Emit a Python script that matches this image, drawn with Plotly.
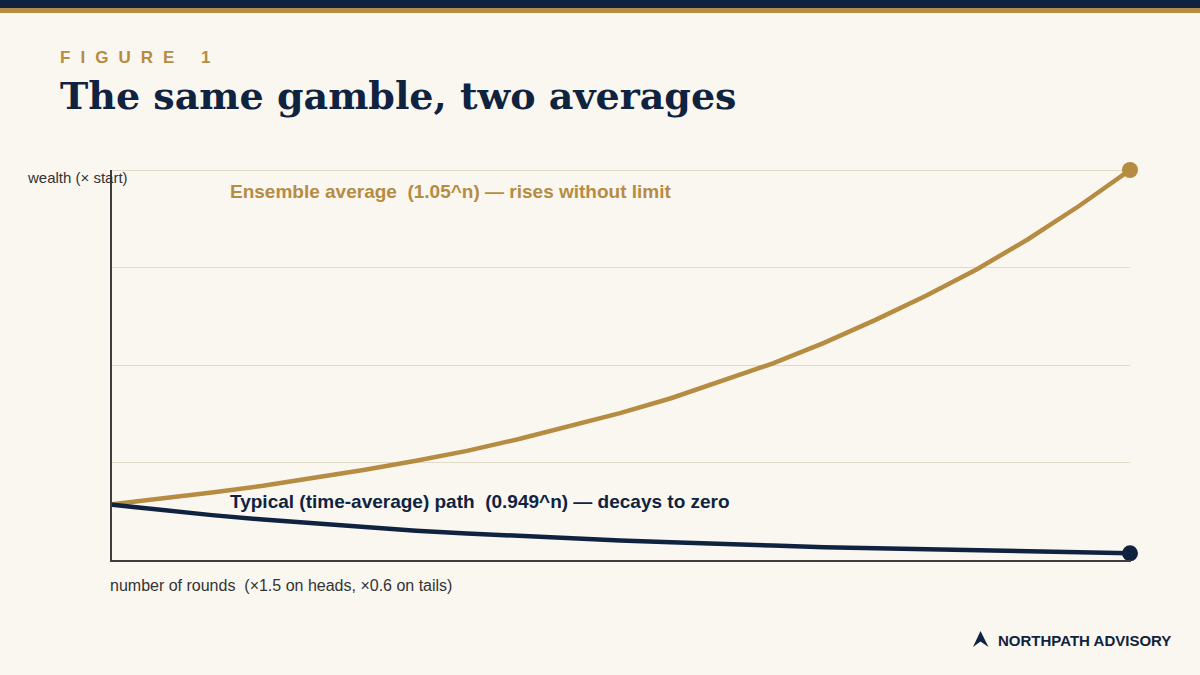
import plotly.graph_objects as go

# Sampled rounds and the two wealth paths (multiples of the starting stake)
rounds = [0, 2, 4, 6, 8, 10, 12, 14, 16, 18, 20, 22, 24, 26, 28, 30, 32, 34, 36, 38, 40]
ensemble = [1.00, 1.10, 1.22, 1.34, 1.48, 1.63, 1.79, 1.97, 2.18, 2.41, 2.65,
            2.92, 3.23, 3.55, 3.92, 4.33, 4.77, 5.25, 5.79, 6.39, 7.04]
typical = [1.00, 0.90, 0.81, 0.73, 0.66, 0.59, 0.53, 0.48, 0.43, 0.39, 0.35,
           0.32, 0.28, 0.26, 0.23, 0.21, 0.19, 0.17, 0.15, 0.14, 0.12]
grid_levels = [1.76, 3.52, 5.28]
top_level = 7.04

NAVY = "#0f2340"
GOLD = "#b58c42"
PAPER = "#faf7f0"
GRID = "#e0dac8"
AXIS = "#3d3d3d"
INK = "#333333"
SANS = "Liberation Sans"
SERIF = "DejaVu Serif"

W, H = 1200, 675
LEFT, RIGHT, TOP, BOTTOM = 110, 1130, 170, 560

fx = lambda px: (px - LEFT) / (RIGHT - LEFT)
fy = lambda py: (BOTTOM - py) / (BOTTOM - TOP)

fig = go.Figure()


def add_path(values, color):
    fig.add_trace(go.Scatter(
        x=rounds, y=values, mode="lines",
        line=dict(color=color, width=4.5), hoverinfo="skip", cliponaxis=False,
    ))
    fig.add_trace(go.Scatter(
        x=rounds[-1:], y=values[-1:], mode="markers",
        marker=dict(color=color, size=16, line=dict(width=0)),
        hoverinfo="skip", cliponaxis=False,
    ))


add_path(ensemble, GOLD)
add_path(typical, NAVY)


def paper_text(x, y, text, size, color, family=SANS, bold=False):
    fig.add_annotation(
        xref="paper", yref="paper", x=fx(x), y=fy(y),
        text=f"<b>{text}</b>" if bold else text, showarrow=False,
        xanchor="left", yanchor="middle", align="left",
        font=dict(size=size, color=color, family=family),
    )


# Wide tracking on the eyebrow: narrower no-break spaces between the letters
GAP = "<span style='font-size:12px'>\u00a0\u00a0\u00a0</span>"
WORD_GAP = "<span style='font-size:12px'>" + "\u00a0" * 8 + "</span>"
eyebrow = GAP.join("FIGURE") + WORD_GAP + "1"

paper_text(58, 57.5, eyebrow, 17, GOLD, bold=True)
paper_text(58, 95, "The same gamble, two averages", 38, NAVY, SERIF, bold=True)
paper_text(24.5, 177, "wealth (× start)", 15, INK)
paper_text(228, 191, "Ensemble average  (1.05^n) — rises without limit", 19, GOLD, bold=True)
paper_text(228, 501, "Typical (time-average) path  (0.949^n) — decays to zero", 19, NAVY, bold=True)
paper_text(108, 585, "number of rounds  (×1.5 on heads, ×0.6 on tails)", 16, INK)
paper_text(995.5, 640, "NORTHPATH ADVISORY", 15, NAVY, bold=True)


def band(y0, y1, color):
    fig.add_shape(type="rect", xref="paper", yref="paper", layer="below",
                  x0=fx(0), x1=fx(W), y0=fy(y1), y1=fy(y0),
                  fillcolor=color, line_width=0)


band(0, 8, NAVY)
band(8, 13, GOLD)

# Brand arrowhead beside the footer wordmark
fig.add_shape(
    type="path", xref="paper", yref="paper", line_width=0, fillcolor=NAVY,
    path=f"M {fx(980.5)} {fy(631)} L {fx(988.5)} {fy(647)} L {fx(980.5)} {fy(641.5)} "
         f"L {fx(973)} {fy(647)} Z",
)

fig.update_layout(
    width=W, height=H, showlegend=False,
    paper_bgcolor=PAPER, plot_bgcolor=PAPER,
    margin=dict(l=LEFT, r=W - RIGHT, t=TOP, b=H - BOTTOM, pad=0),
    xaxis=dict(range=[0, 40], showgrid=False, zeroline=False, showticklabels=False,
               ticks="", showline=False),
    yaxis=dict(range=[0, top_level], tickmode="array", tickvals=grid_levels,
               showgrid=True, gridcolor=GRID, gridwidth=1, zeroline=False,
               showticklabels=False, ticks="", showline=False),
)

# The top gridline sits on the range limit, so it is drawn as a shape
fig.add_shape(type="line", xref="paper", yref="paper", layer="below",
              x0=0, x1=fx(1131), y0=fy(170.5), y1=fy(170.5),
              line=dict(color=GRID, width=1))

# Axis spines
fig.add_shape(type="line", xref="paper", yref="paper",
              x0=fx(111), x1=fx(111), y0=fy(562), y1=fy(170),
              line=dict(color=AXIS, width=2))
fig.add_shape(type="line", xref="paper", yref="paper",
              x0=fx(110), x1=fx(1131), y0=fy(561), y1=fy(561),
              line=dict(color=AXIS, width=2))

fig.write_html("out.html")
